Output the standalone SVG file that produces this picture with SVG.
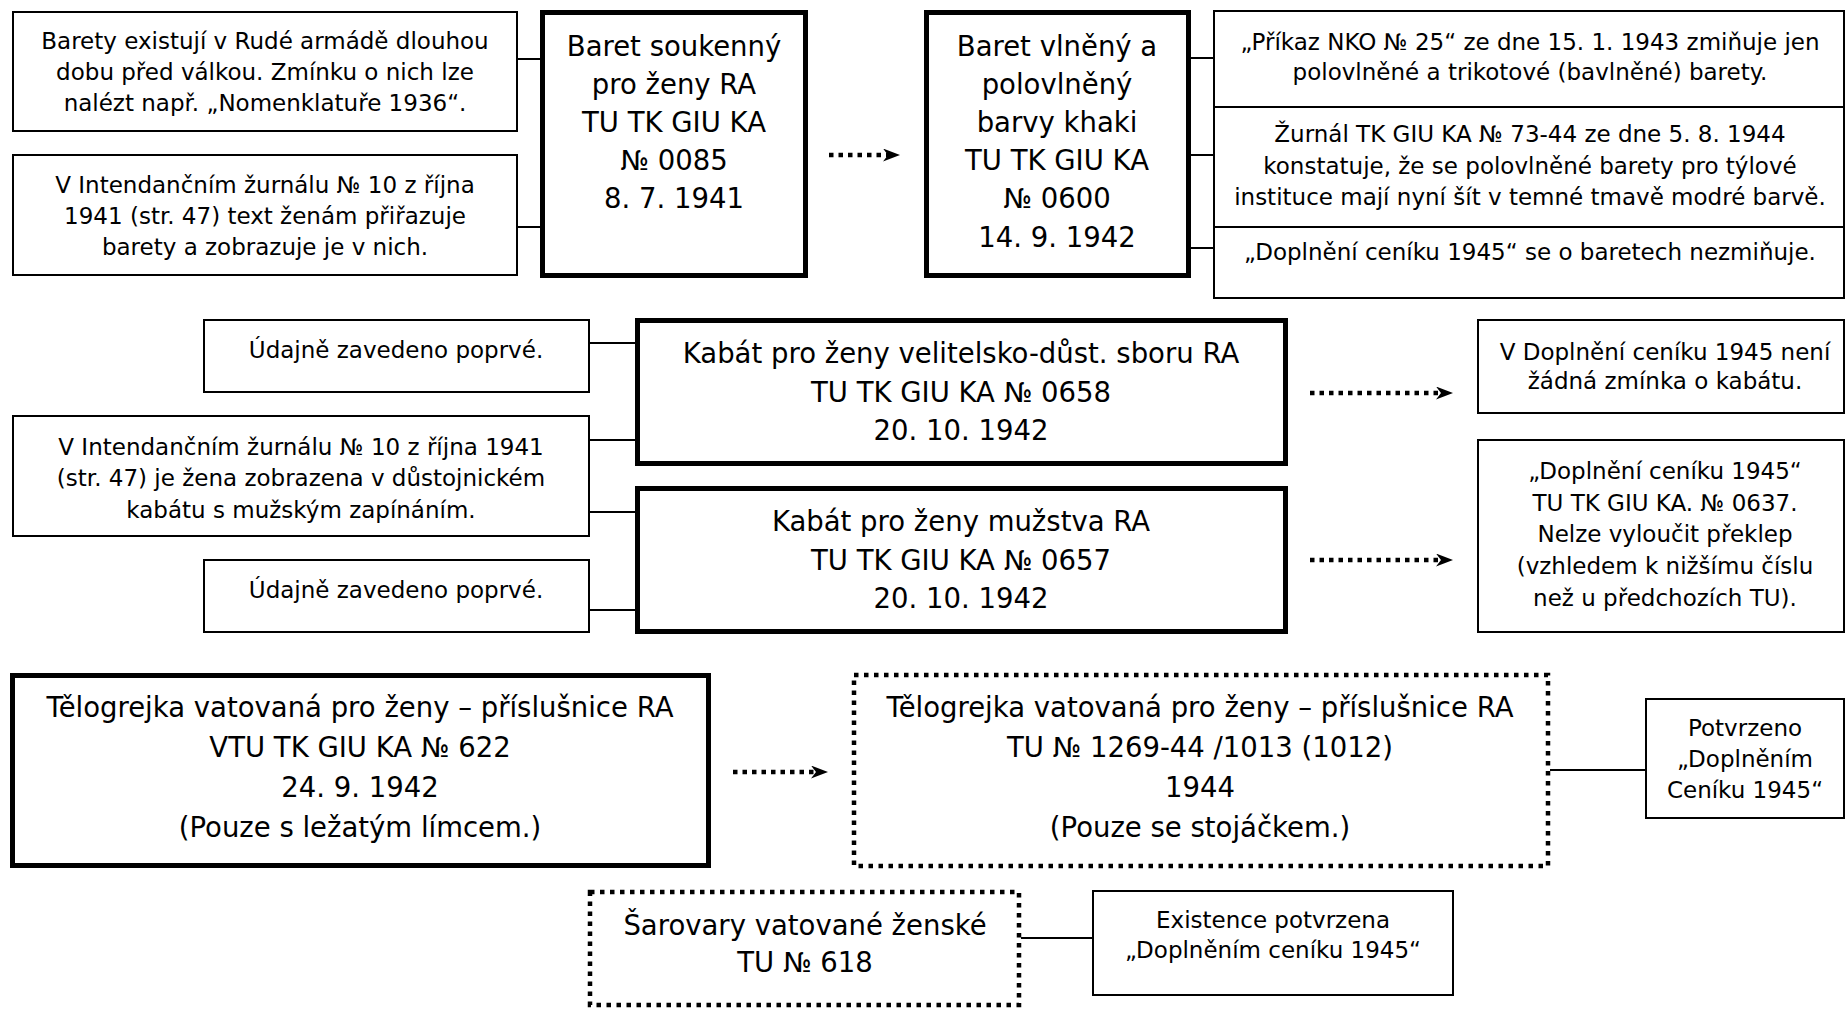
<svg xmlns="http://www.w3.org/2000/svg" width="1846" height="1009" viewBox="0 0 1846 1009">
<defs>
<style>
.thin{fill:#fff;stroke:#000;stroke-width:2}
.thick{fill:#fff;stroke:#000;stroke-width:5}
.dot{fill:#fff;stroke:#000;stroke-width:4.5;stroke-dasharray:4.5 5.5}
.conn{fill:none;stroke:#000;stroke-width:2}
.arr{fill:none;stroke:#000;stroke-width:4.5;stroke-dasharray:4.5 5;marker-end:url(#ah)}
text{font-family:"DejaVu Sans",Verdana,sans-serif;text-anchor:middle;fill:#000}
.s{font-size:23px}
.b{font-size:27.5px}
</style>
<marker id="ah" markerWidth="18" markerHeight="14" refX="5" refY="6.5" orient="auto" markerUnits="userSpaceOnUse">
<path d="M0,0 L17,6.5 L0,13 L5,6.5 z" fill="#000" stroke="none"/>
</marker>
</defs>
<rect width="1846" height="1009" fill="#fff"/>

<g id="connectors">
<path class="conn" d="M517,59 H540 M517,227 H540"/>
<path class="conn" d="M1191,58 H1214 M1191,155 H1214 M1191,248 H1214"/>
<path class="conn" d="M589,343 H635 M589,440 H635 M589,512 H635 M589,610 H635"/>
<path class="conn" d="M1550,770 H1646"/>
<path class="conn" d="M1021,938 H1093"/>
<line class="arr" x1="829" y1="155" x2="888" y2="155"/>
<line class="arr" x1="1310" y1="393" x2="1441" y2="393"/>
<line class="arr" x1="1310" y1="560" x2="1441" y2="560"/>
<line class="arr" x1="733" y1="772" x2="816" y2="772"/>
</g>

<g id="a1"><rect class="thin" x="13" y="12" width="504" height="119"/>
<text class="s"><tspan x="265" y="49">Barety existují v Rudé armádě dlouhou</tspan><tspan x="265" y="80">dobu před válkou. Zmínku o nich lze</tspan><tspan x="265" y="111">nalézt např. „Nomenklatuře 1936“.</tspan></text></g>

<g id="a2"><rect class="thin" x="13" y="155" width="504" height="120"/>
<text class="s"><tspan x="265" y="193">V Intendančním žurnálu № 10 z října</tspan><tspan x="265" y="224">1941 (str. 47) text ženám přiřazuje</tspan><tspan x="265" y="255">barety a zobrazuje je v nich.</tspan></text></g>

<g id="b1"><rect class="thick" x="542.5" y="12.5" width="263" height="263"/>
<text class="b"><tspan x="674" y="56">Baret soukenný</tspan><tspan x="674" y="94">pro ženy RA</tspan><tspan x="674" y="132">TU TK GIU KA</tspan><tspan x="674" y="170">№ 0085</tspan><tspan x="674" y="208">8. 7. 1941</tspan></text></g>

<g id="b2"><rect class="thick" x="926.5" y="12.5" width="262" height="263"/>
<text class="b"><tspan x="1057" y="56">Baret vlněný a</tspan><tspan x="1057" y="94">polovlněný</tspan><tspan x="1057" y="132">barvy khaki</tspan><tspan x="1057" y="170">TU TK GIU KA</tspan><tspan x="1057" y="208">№ 0600</tspan><tspan x="1057" y="247">14. 9. 1942</tspan></text></g>

<g id="c1"><rect class="thin" x="1214" y="11" width="630" height="96"/>
<text class="s"><tspan x="1530" y="50">„Příkaz NKO № 25“ ze dne 15. 1. 1943 zmiňuje jen</tspan><tspan x="1530" y="80">polovlněné a trikotové (bavlněné) barety.</tspan></text></g>

<g id="c2"><rect class="thin" x="1214" y="107" width="630" height="120"/>
<text class="s"><tspan x="1530" y="142">Žurnál TK GIU KA № 73-44 ze dne 5. 8. 1944</tspan><tspan x="1530" y="174">konstatuje, že se polovlněné barety pro týlové</tspan><tspan x="1530" y="205">instituce mají nyní šít v temné tmavě modré barvě.</tspan></text></g>

<g id="c3"><rect class="thin" x="1214" y="227" width="630" height="71"/>
<text class="s"><tspan x="1530" y="260">„Doplnění ceníku 1945“ se o baretech nezmiňuje.</tspan></text></g>

<g id="d1"><rect class="thin" x="204" y="320" width="385" height="72"/>
<text class="s"><tspan x="396" y="358">Údajně zavedeno poprvé.</tspan></text></g>

<g id="d2"><rect class="thin" x="13" y="416" width="576" height="120"/>
<text class="s"><tspan x="301" y="455">V Intendančním žurnálu № 10 z října 1941</tspan><tspan x="301" y="486">(str. 47) je žena zobrazena v důstojnickém</tspan><tspan x="301" y="518">kabátu s mužským zapínáním.</tspan></text></g>

<g id="d3"><rect class="thin" x="204" y="560" width="385" height="72"/>
<text class="s"><tspan x="396" y="598">Údajně zavedeno poprvé.</tspan></text></g>

<g id="f1"><rect class="thick" x="637.5" y="320.5" width="648" height="143"/>
<text class="b"><tspan x="961" y="363">Kabát pro ženy velitelsko-důst. sboru RA</tspan><tspan x="961" y="402">TU TK GIU KA № 0658</tspan><tspan x="961" y="440">20. 10. 1942</tspan></text></g>

<g id="f2"><rect class="thick" x="637.5" y="488.5" width="648" height="143"/>
<text class="b"><tspan x="961" y="531">Kabát pro ženy mužstva RA</tspan><tspan x="961" y="570">TU TK GIU KA № 0657</tspan><tspan x="961" y="608">20. 10. 1942</tspan></text></g>

<g id="e1"><rect class="thin" x="1478" y="320" width="366" height="93"/>
<text class="s"><tspan x="1665" y="360">V Doplnění ceníku 1945 není</tspan><tspan x="1665" y="389">žádná zmínka o kabátu.</tspan></text></g>

<g id="e2"><rect class="thin" x="1478" y="440" width="366" height="192"/>
<text class="s"><tspan x="1665" y="479">„Doplnění ceníku 1945“</tspan><tspan x="1665" y="511">TU TK GIU KA. № 0637.</tspan><tspan x="1665" y="542">Nelze vyloučit překlep</tspan><tspan x="1665" y="574">(vzhledem k nižšímu číslu</tspan><tspan x="1665" y="606">než u předchozích TU).</tspan></text></g>

<g id="g1"><rect class="thick" x="12.5" y="675.5" width="696" height="190"/>
<text class="b"><tspan x="360" y="717">Tělogrejka vatovaná pro ženy – příslušnice RA</tspan><tspan x="360" y="757">VTU TK GIU KA № 622</tspan><tspan x="360" y="797">24. 9. 1942</tspan><tspan x="360" y="837">(Pouze s ležatým límcem.)</tspan></text></g>

<g id="g2"><rect class="dot" x="854" y="675" width="694" height="191"/>
<text class="b"><tspan x="1200" y="717">Tělogrejka vatovaná pro ženy – příslušnice RA</tspan><tspan x="1200" y="757">TU № 1269-44 /1013 (1012)</tspan><tspan x="1200" y="797">1944</tspan><tspan x="1200" y="837">(Pouze se stojáčkem.)</tspan></text></g>

<g id="i"><rect class="thin" x="1646" y="699" width="198" height="119"/>
<text class="s"><tspan x="1745" y="736">Potvrzeno</tspan><tspan x="1745" y="767">„Doplněním</tspan><tspan x="1745" y="798">Ceníku 1945“</tspan></text></g>

<g id="h"><rect class="dot" x="590" y="892" width="429" height="113"/>
<text class="b"><tspan x="805" y="935">Šarovary vatované ženské</tspan><tspan x="805" y="972">TU № 618</tspan></text></g>

<g id="j"><rect class="thin" x="1093" y="891" width="360" height="104"/>
<text class="s"><tspan x="1273" y="928">Existence potvrzena</tspan><tspan x="1273" y="958">„Doplněním ceníku 1945“</tspan></text></g>
</svg>
